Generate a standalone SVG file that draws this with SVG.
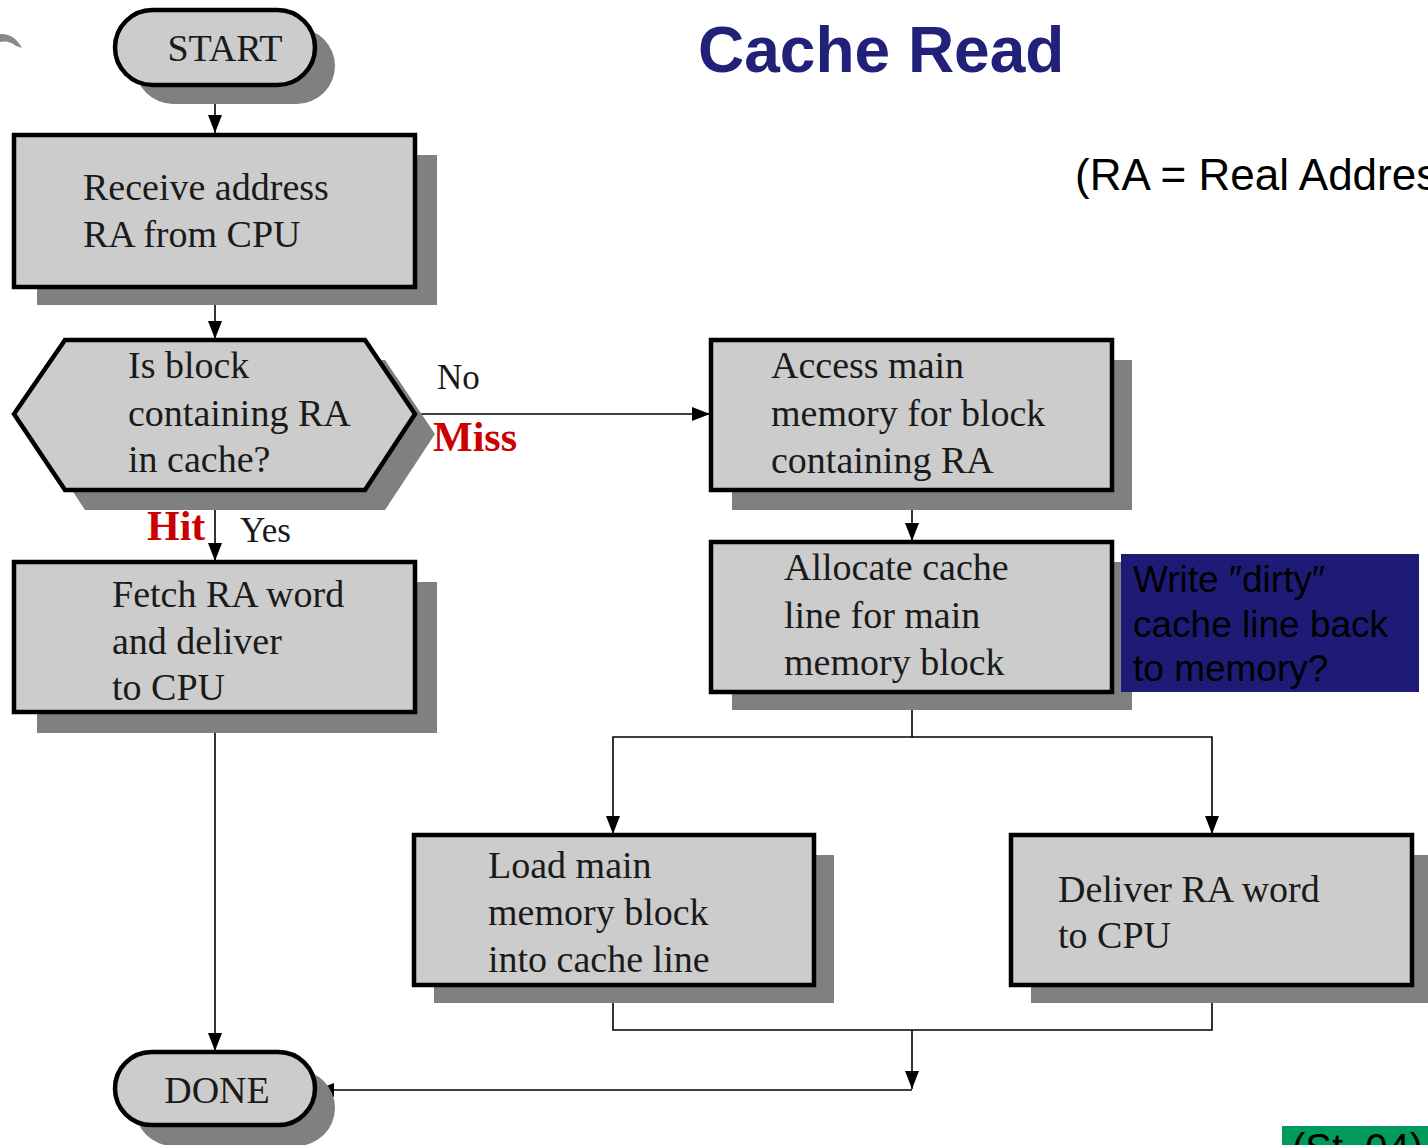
<svg xmlns="http://www.w3.org/2000/svg" width="1428" height="1145" viewBox="0 0 1428 1145">
<defs>
<style>
.shadow{fill:#808080}
.box{fill:#cccccc;stroke:#000;stroke-width:4.5}
.t{font-family:"Liberation Serif","Times New Roman",serif;font-size:38px;fill:#1a1a1a}
.yn{font-family:"Liberation Serif","Times New Roman",serif;font-size:35px;fill:#1a1a1a}
.red{font-family:"Liberation Serif","Times New Roman",serif;font-size:42px;font-weight:bold;fill:#cc0000}
.wire{fill:none;stroke:#000;stroke-width:1.6}
.note{font-family:"Liberation Sans",Arial,sans-serif;font-size:37px;fill:#000}
</style>
<marker id="ahb" viewBox="0 0 10 10" refX="10" refY="5" markerWidth="18" markerHeight="14" markerUnits="userSpaceOnUse" orient="auto" preserveAspectRatio="none">
<path d="M0,0 L10,5 L0,10 Z" fill="#000"/>
</marker>
</defs>
<rect width="1428" height="1145" fill="#fff"/>

<path d="M0,34 Q14,33 22,48 L16,46 Q9,40 0,42 Z" fill="#8a8a8a"/>

<text x="698" y="72" font-family="'Liberation Sans',Arial,sans-serif" font-size="64" font-weight="bold" fill="#21217a">Cache Read</text>
<text x="1075" y="190" font-family="'Liberation Sans',Arial,sans-serif" font-size="44" fill="#000">(RA = Real Address)</text>

<g id="connectors">
<line class="wire" x1="215" y1="85" x2="215" y2="133" marker-end="url(#ahb)"/>
<line class="wire" x1="215" y1="287" x2="215" y2="339" marker-end="url(#ahb)"/>
<line class="wire" x1="415" y1="414" x2="710" y2="414" marker-end="url(#ahb)"/>
<line class="wire" x1="215" y1="490" x2="215" y2="561" marker-end="url(#ahb)"/>
<line class="wire" x1="215" y1="712" x2="215" y2="1051" marker-end="url(#ahb)"/>
<line class="wire" x1="912" y1="490" x2="912" y2="541" marker-end="url(#ahb)"/>
<polyline class="wire" points="912,692 912,737 613,737 613,834" marker-end="url(#ahb)"/>
<polyline class="wire" points="912,737 1212,737 1212,834" marker-end="url(#ahb)"/>
<polyline class="wire" points="613,985 613,1030 1212,1030 1212,985"/>
<line class="wire" x1="912" y1="1030" x2="912" y2="1089" marker-end="url(#ahb)"/>
<line class="wire" x1="912" y1="1090" x2="316" y2="1090" marker-end="url(#ahb)"/>
</g>

<g id="start">
<rect class="shadow" x="135" y="28" width="200" height="76" rx="38"/>
<rect class="box" x="115" y="10" width="200" height="75" rx="37.5"/>
<text class="t" x="225" y="61" text-anchor="middle">START</text>
</g>

<g id="receive">
<rect class="shadow" x="37" y="155" width="400" height="150"/>
<rect class="box" x="14" y="135" width="401" height="152"/>
<text class="t" x="83" y="200">Receive address</text>
<text class="t" x="83" y="247">RA from CPU</text>
</g>

<g id="decision">
<polygon class="shadow" points="85,360 385,360 435,434 385,510 85,510 35,434"/>
<polygon class="box" points="14,414 65,340 365,340 415,414 365,490 65,490"/>
<text class="t" x="128" y="378">Is block</text>
<text class="t" x="128" y="426">containing RA</text>
<text class="t" x="128" y="472">in cache?</text>
</g>

<text class="yn" x="437" y="389">No</text>
<text class="red" x="433" y="451">Miss</text>
<text class="red" x="147" y="540">Hit</text>
<text class="yn" x="240" y="542">Yes</text>

<g id="fetch">
<rect class="shadow" x="37" y="582" width="400" height="151"/>
<rect class="box" x="14" y="562" width="401" height="150"/>
<text class="t" x="112" y="607">Fetch RA word</text>
<text class="t" x="112" y="654">and deliver</text>
<text class="t" x="112" y="700">to CPU</text>
</g>

<g id="done">
<rect class="shadow" x="135" y="1070" width="200" height="76" rx="38"/>
<rect class="box" x="115" y="1052" width="200" height="73" rx="36.5"/>
<text class="t" x="217" y="1103" text-anchor="middle">DONE</text>
</g>

<g id="access">
<rect class="shadow" x="732" y="360" width="400" height="150"/>
<rect class="box" x="711" y="340" width="401" height="150"/>
<text class="t" x="771" y="378">Access main</text>
<text class="t" x="771" y="426">memory for block</text>
<text class="t" x="771" y="473">containing RA</text>
</g>

<g id="allocate">
<rect class="shadow" x="732" y="562" width="400" height="148"/>
<rect class="box" x="711" y="542" width="401" height="150"/>
<text class="t" x="784" y="580">Allocate cache</text>
<text class="t" x="784" y="628">line for main</text>
<text class="t" x="784" y="675">memory block</text>
</g>

<g id="dirty-note">
<rect x="1121" y="554" width="298" height="138" fill="#1e1b76"/>
<text class="note" x="1133" y="592">Write ″dirty″</text>
<text class="note" x="1133" y="637">cache line back</text>
<text class="note" x="1133" y="681">to memory?</text>
</g>

<g id="load">
<rect class="shadow" x="434" y="855" width="400" height="148"/>
<rect class="box" x="414" y="835" width="400" height="150"/>
<text class="t" x="488" y="878">Load main</text>
<text class="t" x="488" y="925">memory block</text>
<text class="t" x="488" y="972">into cache line</text>
</g>

<g id="deliver">
<rect class="shadow" x="1031" y="855" width="400" height="148"/>
<rect class="box" x="1011" y="835" width="401" height="150"/>
<text class="t" x="1058" y="902">Deliver RA word</text>
<text class="t" x="1058" y="948">to CPU</text>
</g>

<g id="footer">
<rect x="1282" y="1126" width="146" height="19" fill="#009a5c"/>
<text x="1292" y="1162" font-family="'Liberation Sans',Arial,sans-serif" font-size="40" fill="#000">(St. 04)</text>
</g>
</svg>
